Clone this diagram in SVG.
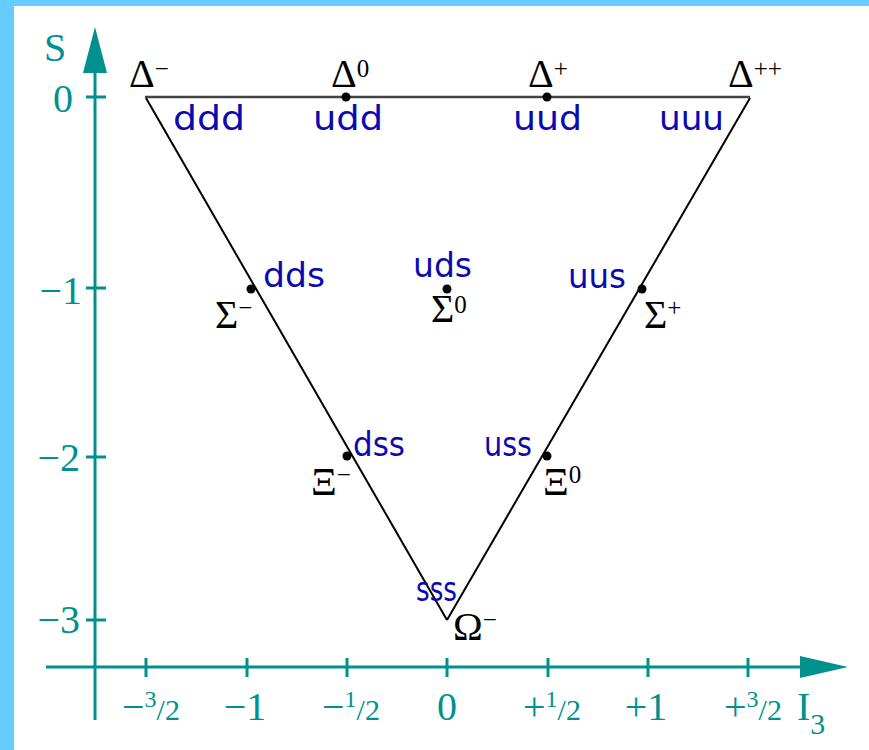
<svg xmlns="http://www.w3.org/2000/svg" width="869" height="750" viewBox="0 0 869 750">
<defs>
<style>
.ax{stroke:#00918e;stroke-width:3;fill:none}
.tl{fill:#00918e;font-family:"Liberation Serif","DejaVu Serif",serif;font-size:40px}
.gk{fill:#000;font-family:"Liberation Serif","DejaVu Serif",serif;font-size:40px}
.sp{font-size:25px}
.qk{fill:#0a0ab0;font-family:"DejaVu Sans","Liberation Sans",sans-serif;font-size:33px}
.edge{stroke:#000;stroke-width:2;fill:none}
.top{stroke:#444;stroke-width:2.5;fill:none}
.dot{fill:#000}
.fs{font-size:24px}
.fl{font-size:30px}
</style>
</defs>
<rect x="0" y="0" width="869" height="750" fill="#66ccff"/>
<rect x="14" y="6" width="855" height="744" fill="#fff"/>

<g id="axes">
<line class="ax" x1="95" y1="70" x2="95" y2="720"/>
<polygon points="95,27 83,73 107,73" fill="#00918e"/>
<line class="ax" x1="46" y1="667" x2="802" y2="667"/>
<polygon points="848,667 800,656 800,678" fill="#00918e"/>
<g class="ax">
<line x1="86" y1="97" x2="106" y2="97"/>
<line x1="86" y1="288" x2="106" y2="288"/>
<line x1="86" y1="457" x2="106" y2="457"/>
<line x1="86" y1="620" x2="106" y2="620"/>
<line x1="146" y1="658" x2="146" y2="677"/>
<line x1="247" y1="658" x2="247" y2="677"/>
<line x1="347" y1="658" x2="347" y2="677"/>
<line x1="447" y1="658" x2="447" y2="677"/>
<line x1="548" y1="658" x2="548" y2="677"/>
<line x1="648" y1="658" x2="648" y2="677"/>
<line x1="748" y1="658" x2="748" y2="677"/>
</g>
<text class="tl" x="44" y="61" font-size="42">S</text>
<text class="tl" x="73" y="112" text-anchor="end">0</text>
<text class="tl" x="82" y="304" text-anchor="end">−1</text>
<text class="tl" x="80" y="471" text-anchor="end">−2</text>
<text class="tl" x="80" y="633" text-anchor="end">−3</text>
<text class="tl" x="122" y="720">−<tspan class="fs" dy="-13">3</tspan><tspan class="fl" dy="13">/</tspan><tspan class="fl">2</tspan></text>
<text class="tl" x="245" y="720" text-anchor="middle">−1</text>
<text class="tl" x="322" y="720">−<tspan class="fs" dy="-13">1</tspan><tspan class="fl" dy="13">/</tspan><tspan class="fl">2</tspan></text>
<text class="tl" x="447" y="720" text-anchor="middle">0</text>
<text class="tl" x="523" y="720">+<tspan class="fs" dy="-13">1</tspan><tspan class="fl" dy="13">/</tspan><tspan class="fl">2</tspan></text>
<text class="tl" x="646" y="720" text-anchor="middle">+1</text>
<text class="tl" x="724" y="720">+<tspan class="fs" dy="-13">3</tspan><tspan class="fl" dy="13">/</tspan><tspan class="fl">2</tspan></text>
<text class="tl" x="797" y="720">I<tspan class="fl" dy="14">3</tspan></text>
</g>

<g id="connectors">
<line class="top" x1="145" y1="97" x2="750" y2="97"/>
<line class="edge" x1="146" y1="98" x2="447" y2="620"/>
<line class="edge" x1="750" y1="98" x2="447" y2="620"/>
</g>

<g id="delta-minus">
<text class="gk" x="129" y="87">Δ<tspan class="sp" dy="-10">−</tspan></text>
<text class="qk" x="173" y="130" textLength="72" lengthAdjust="spacingAndGlyphs">ddd</text>
</g>
<g id="delta-0">
<circle class="dot" cx="346" cy="97" r="4.5"/>
<text class="gk" x="331" y="87">Δ<tspan class="sp" dy="-10">0</tspan></text>
<text class="qk" x="313" y="130" textLength="70" lengthAdjust="spacingAndGlyphs">udd</text>
</g>
<g id="delta-plus">
<circle class="dot" cx="547" cy="97" r="4.5"/>
<text class="gk" x="528" y="87">Δ<tspan class="sp" dy="-10">+</tspan></text>
<text class="qk" x="513" y="130" textLength="69" lengthAdjust="spacingAndGlyphs">uud</text>
</g>
<g id="delta-plusplus">
<text class="gk" x="728" y="87">Δ<tspan class="sp" dy="-10">++</tspan></text>
<text class="qk" x="659" y="130" textLength="65" lengthAdjust="spacingAndGlyphs">uuu</text>
</g>
<g id="sigma-minus">
<circle class="dot" cx="251" cy="289" r="4.5"/>
<text class="gk" x="215" y="328">Σ<tspan class="sp" dy="-12">−</tspan></text>
<text class="qk" x="263" y="287" textLength="62" lengthAdjust="spacingAndGlyphs">dds</text>
</g>
<g id="sigma-0">
<circle class="dot" cx="447" cy="289" r="4.5"/>
<text class="gk" x="431" y="322">Σ<tspan class="sp" dy="-9">0</tspan></text>
<text class="qk" x="413" y="277" textLength="59" lengthAdjust="spacingAndGlyphs">uds</text>
</g>
<g id="sigma-plus">
<circle class="dot" cx="642" cy="289" r="4.5"/>
<text class="gk" x="644" y="328">Σ<tspan class="sp" dy="-12">+</tspan></text>
<text class="qk" x="568" y="288" textLength="58" lengthAdjust="spacingAndGlyphs">uus</text>
</g>
<g id="xi-minus">
<circle class="dot" cx="347" cy="456" r="4.5"/>
<text class="gk" x="311" y="495">Ξ<tspan class="sp" dy="-12">−</tspan></text>
<text class="qk" x="353" y="456" textLength="52" lengthAdjust="spacingAndGlyphs">dss</text>
</g>
<g id="xi-0">
<circle class="dot" cx="547" cy="456" r="4.5"/>
<text class="gk" x="543" y="495">Ξ<tspan class="sp" dy="-12">0</tspan></text>
<text class="qk" x="484" y="456" textLength="48" lengthAdjust="spacingAndGlyphs">uss</text>
</g>
<g id="omega-minus">
<text class="gk" x="453" y="640">Ω<tspan class="sp" dy="-12">−</tspan></text>
<text class="qk" x="416" y="601" textLength="41" lengthAdjust="spacingAndGlyphs">sss</text>
</g>
</svg>
